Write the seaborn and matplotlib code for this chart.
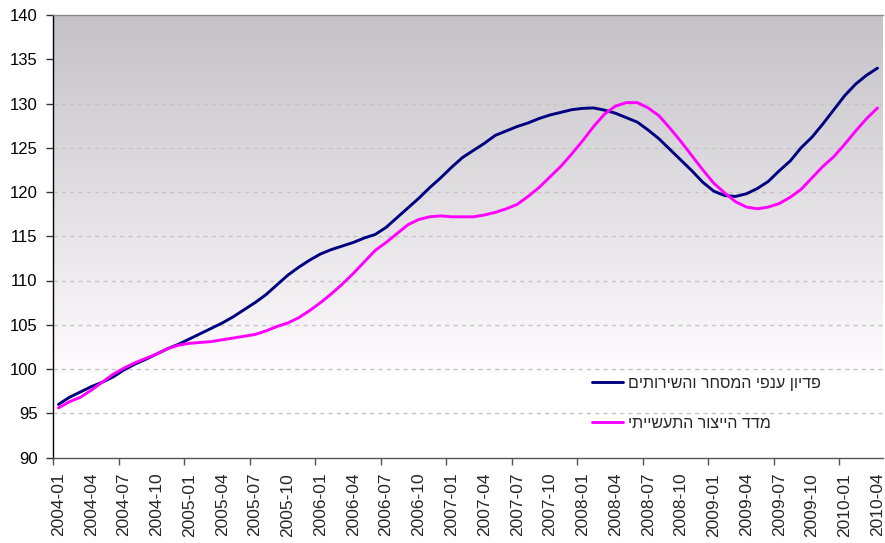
import numpy as np
import pandas as pd
import matplotlib
matplotlib.use("Agg")
import matplotlib.pyplot as plt
import seaborn as sns

# ------------------------------------------------------------
# Data (monthly, 2004-01 .. 2010-04)
# ------------------------------------------------------------
start_year, start_month = 2004, 1
n_months = 76
months = [f"{start_year + (start_month - 1 + k) // 12}-{(start_month - 1 + k) % 12 + 1:02d}"
          for k in range(n_months)]

trade_services = [
    96.0, 96.8, 97.4, 98.0, 98.5, 99.1, 99.9, 100.55, 101.1, 101.7,
    102.3, 102.8, 103.4, 104.0, 104.6, 105.2, 105.9, 106.7, 107.5, 108.4,
    109.5, 110.6, 111.5, 112.3, 113.0, 113.5, 113.9, 114.3, 114.8, 115.2,
    116.0, 117.1, 118.2, 119.3, 120.5, 121.6, 122.8, 123.9, 124.7, 125.5,
    126.4, 126.9, 127.4, 127.8, 128.3, 128.7, 129.0, 129.3, 129.45, 129.5,
    129.25, 128.9, 128.4, 127.9, 127.0, 126.0, 124.8, 123.6, 122.4, 121.1,
    120.1, 119.6, 119.5, 119.8, 120.4, 121.2, 122.4, 123.5, 125.0, 126.2,
    127.7, 129.3, 130.9, 132.2, 133.2, 134.0,
]

industrial_production = [
    95.6, 96.3, 96.8, 97.6, 98.5, 99.4, 100.1, 100.7, 101.2, 101.7,
    102.3, 102.7, 102.9, 103.0, 103.1, 103.3, 103.5, 103.7, 103.9, 104.3,
    104.8, 105.2, 105.8, 106.6, 107.5, 108.5, 109.6, 110.8, 112.1, 113.4,
    114.3, 115.3, 116.3, 116.9, 117.2, 117.3, 117.2, 117.2, 117.2, 117.4,
    117.7, 118.1, 118.6, 119.5, 120.5, 121.7, 122.9, 124.3, 125.8, 127.4,
    128.8, 129.7, 130.1, 130.1, 129.5, 128.6, 127.2, 125.7, 124.1, 122.5,
    121.0, 119.9, 118.9, 118.3, 118.1, 118.3, 118.7, 119.4, 120.3, 121.6,
    122.9, 124.0, 125.4, 126.9, 128.3, 129.5,
]

label_trade = "פדיון ענפי המסחר והשירותים"
label_industry = "מדד הייצור התעשייתי"

y_min, y_max, y_step = 90, 140, 5

# matplotlib has no bidi support: reverse Hebrew so it reads right-to-left
disp_trade = label_trade[::-1]
disp_industry = label_industry[::-1]

df = pd.DataFrame({
    "idx": list(range(n_months)) * 2,
    "value": trade_services + industrial_production,
    "series": [disp_trade] * n_months + [disp_industry] * n_months,
})

# ------------------------------------------------------------
# Plot
# ------------------------------------------------------------
sns.set_theme(style="white")
plt.rcParams["font.family"] = ["Liberation Sans", "DejaVu Sans"]

fig = plt.figure(figsize=(8.85, 5.43), dpi=100)
ax = fig.add_axes([53 / 885, 85.5 / 543, 830 / 885, 442.5 / 543])

# gray-to-white gradient background (white below ~100)
levels = np.linspace(y_max, y_min, 400)
top_rgb = np.array([0.768, 0.760, 0.778])
mid_rgb = np.array([1.0, 0.985, 1.0])
frac = np.clip((y_max - levels) / (y_max - 99.5), 0, 1)[:, None]
grad = top_rgb * (1 - frac) + mid_rgb * frac
grad[levels < 99.5] = 1.0
ax.imshow(grad[:, None, :], extent=[-0.5, n_months - 0.5, y_min, y_max],
          aspect="auto", zorder=0, interpolation="bilinear")

for v in range(y_min + y_step, y_max, y_step):
    ax.axhline(v, color="#c4c4c4", lw=1.0, ls=(0, (3, 3)), zorder=1)

sns.lineplot(data=df, x="idx", y="value", hue="series",
             palette=["#000080", "#ff00ff"], linewidth=2.1,
             ax=ax, zorder=3, legend=True)

ax.set_xlim(-0.5, n_months - 0.5)
ax.set_ylim(y_min, y_max)
ax.set_xlabel("")
ax.set_ylabel("")

ax.set_yticks(range(y_min, y_max + 1, y_step))
ax.tick_params(axis="y", direction="out", length=5, width=1, color="#333333",
               labelsize=12, pad=6, left=True, labelcolor="black")

ax.set_xticks(range(0, n_months, 3))
ax.set_xticklabels(months[::3], rotation=90, fontsize=12.5)
ax.set_xticks(np.arange(-0.5, n_months, 6), minor=True)
ax.tick_params(axis="x", which="major", length=0, pad=11)
ax.tick_params(axis="x", which="minor", direction="out", length=5, width=1,
               color="#555555", bottom=True)

ax.spines["left"].set_color("black")
ax.spines["bottom"].set_color("#555555")
ax.spines["top"].set_color("#888888")
ax.spines["right"].set_visible(False)
for s in ("left", "bottom", "top"):
    ax.spines[s].set_linewidth(1.0)

leg = ax.legend(loc="center left", bbox_to_anchor=(592 / 885, 1 - 403.4 / 543),
                bbox_transform=fig.transFigure, frameon=False, fontsize=11.5,
                handlelength=1.95, handletextpad=0.3, labelspacing=1.55,
                borderpad=0, borderaxespad=0)

fig.savefig("out.png", dpi=100)
